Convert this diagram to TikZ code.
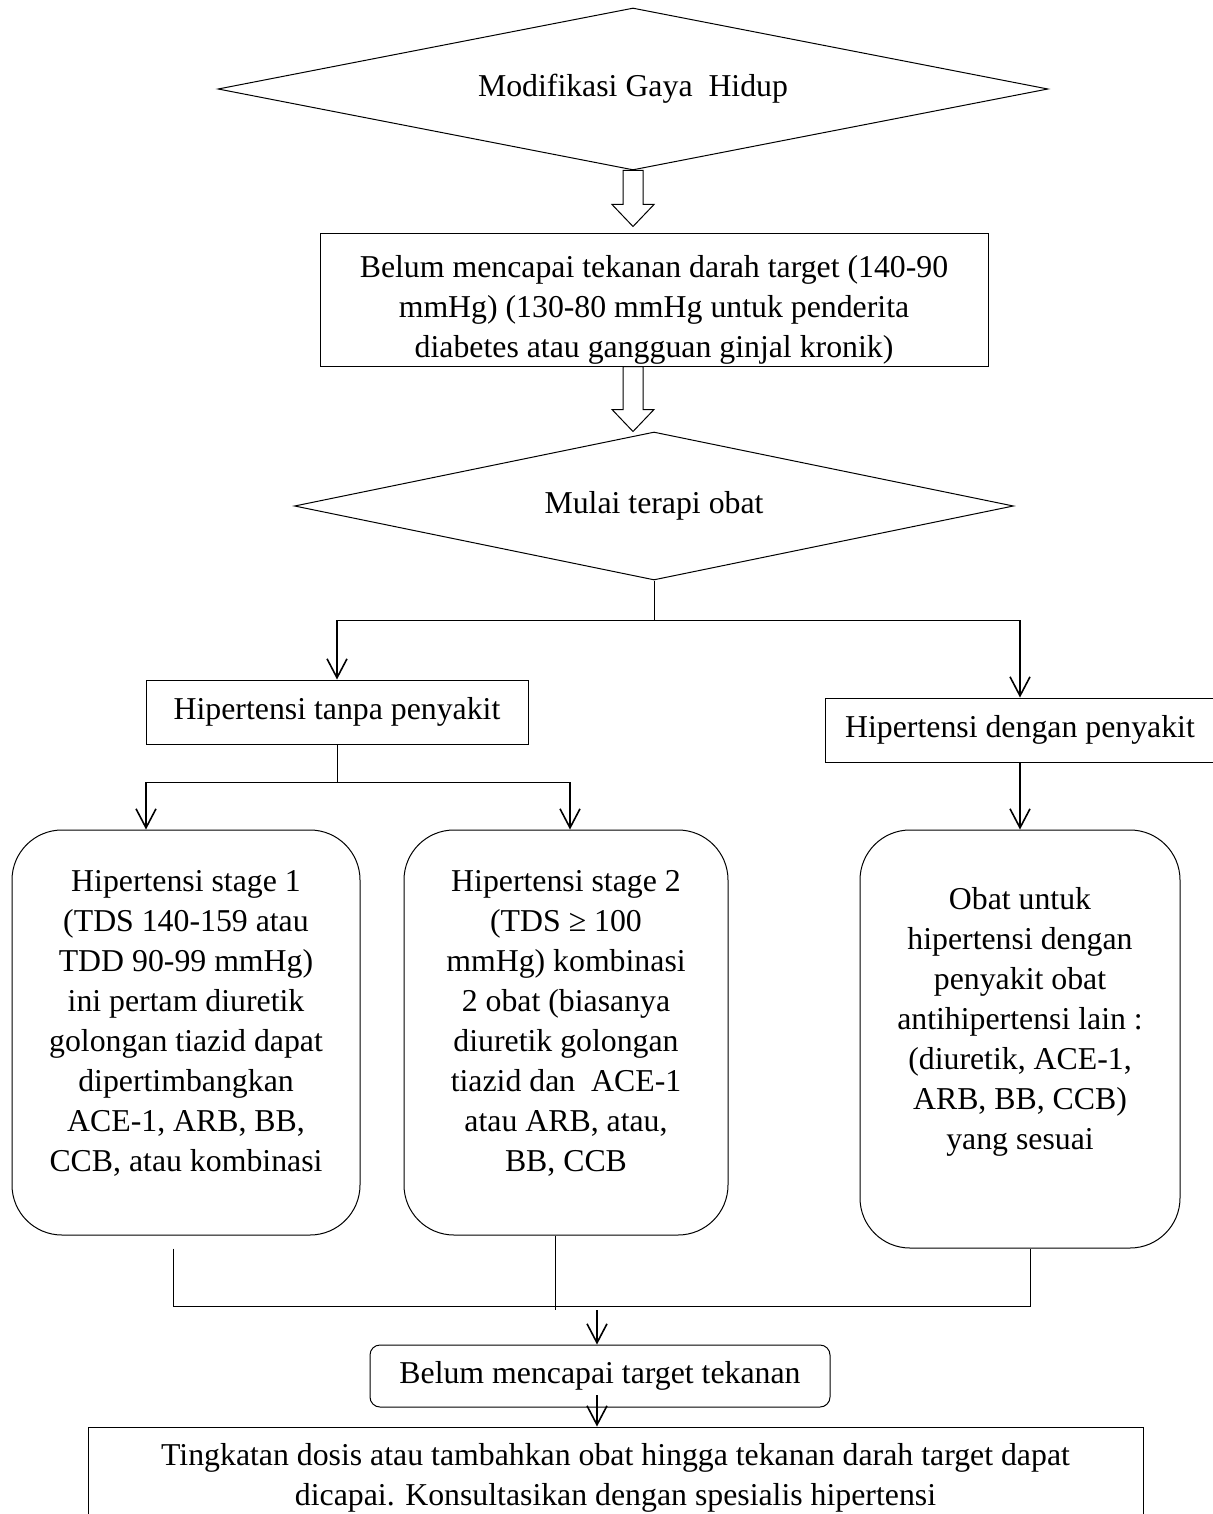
\documentclass[tikz,border=0pt]{standalone}
\usepackage{fontspec}
\setmainfont{Liberation Serif}
\usepackage{tikz}
\usetikzlibrary{arrows.meta,shapes.geometric,calc}

\newcommand{\hollowarrow}[2]{%
  \draw[hollow] ($(#1)+(-10,0)$) -- ($(#1|-#2)+(-10,-22)$) -- ($(#1|-#2)+(-21,-22)$)
    -- (#1|-#2) -- ($(#1|-#2)+(21,-22)$) -- ($(#1|-#2)+(10,-22)$) -- ($(#1)+(10,0)$) -- cycle;}

\begin{document}
\begin{tikzpicture}[x=0.5pt,y=-0.5pt,
  every node/.style={font=\fontsize{15.9}{20}\selectfont},
  box/.style={draw,line width=0.5pt,inner sep=0pt,align=center},
  rbox/.style={box,rounded corners=25pt},
  choice/.style={draw,line width=0.5pt,shape=diamond,inner sep=0pt},
  link/.style={line width=0.5pt},
  arr/.style={line width=0.8pt,-{Straight Barb[length=9.5pt,width=10pt]}},
  hollow/.style={line width=0.5pt,fill=white}]

\useasboundingbox (0,0) rectangle (1213,1514);
\clip (0,0) rectangle (1213,1514);

\node [choice, aspect=5.1, minimum width=415pt, minimum height=81pt] (gaya) at (633,89) {Modifikasi Gaya~ Hidup};
\node [box, minimum width=334pt, minimum height=66pt, text height=61pt] (target) at (654,300)
  {Belum mencapai tekanan darah target (140-90\\mmHg) (130-80 mmHg untuk penderita\\diabetes atau gangguan ginjal kronik)};
\node [choice, aspect=4.86, minimum width=359.5pt, minimum height=74pt] (terapi) at (654,506) {Mulai terapi obat};

\node [box, minimum width=191pt, minimum height=32pt] (tanpa) at (337,712) {Hipertensi tanpa penyakit};
\node [box, minimum width=195pt, minimum height=32pt] (dengan) at (1020,730) {Hipertensi dengan penyakit};

\node [rbox, minimum width=174pt, minimum height=202.5pt, text depth=12pt] (stage1) at (186,1032.5)
  {Hipertensi stage 1\\(TDS 140-159 atau\\TDD 90-99 mmHg)\\ini pertam diuretik\\golongan tiazid dapat\\dipertimbangkan\\ACE-1, ARB, BB,\\CCB, atau kombinasi};
\node [rbox, minimum width=162pt, minimum height=202.5pt, text depth=12pt] (stage2) at (566,1032.5)
  {Hipertensi stage 2\\(TDS ≥ 100\\mmHg) kombinasi\\2 obat (biasanya\\diuretik golongan\\tiazid dan~ ACE-1\\atau ARB, atau,\\BB, CCB};
\node [rbox, minimum width=160pt, minimum height=209pt, text depth=21pt] (lain) at (1020,1039)
  {Obat untuk\\hipertensi dengan\\penyakit obat\\antihipertensi lain :\\(diuretik, ACE-1,\\ARB, BB, CCB)\\yang sesuai};

\node [box, rounded corners=5pt, minimum width=230pt, minimum height=31pt] (belum) at (600,1376) {Belum mencapai target tekanan};
\node [box, minimum width=527.5pt, minimum height=51pt] (dosis) at (615.5,1478)
  {Tingkatan dosis atau tambahkan obat hingga tekanan darah target dapat\\dicapai. Konsultasikan dengan spesialis hipertensi};

\coordinate (t1) at ($(target.north)+(0,-7)$);
\coordinate (s2) at (gaya.south |- target.south);
\hollowarrow{gaya.south}{t1}
\hollowarrow{s2}{terapi.north}

\coordinate (f1) at (654,620);
\draw [link] (terapi.south) -- (f1);
\draw [link] (tanpa.north |- f1) -- (dengan.north |- f1);
\foreach \n in {tanpa,dengan}
    \draw [arr] (\n.north |- f1) -- (\n.north);

\coordinate (a1) at (146,782);
\coordinate (a2) at (570,782);
\coordinate (f2) at (tanpa.south |- a1);
\draw [link] (tanpa.south) -- (f2);
\draw [link] (a1) -- (a2);
\draw [arr] (a1) -- (a1 |- stage1.north);
\draw [arr] (a2) -- (a2 |- stage2.north);
\draw [arr] (dengan.south) -- (lain.north);

\coordinate (j1) at (173,1306);
\coordinate (j2) at (555,1310);
\coordinate (j3) at (1030,1306);
\coordinate (j4) at (597,1310);
\coordinate (j5) at (597,1395);
\draw [link] (j1 |- lain.south) -- (j1) -- (j3) -- (j3 |- lain.south);
\draw [link] (j2 |- stage2.south) -- (j2);
\draw [arr] (j4) -- (j4 |- belum.north);
\draw [arr] (j5) -- (j5 |- dosis.north);

\end{tikzpicture}
\end{document}
